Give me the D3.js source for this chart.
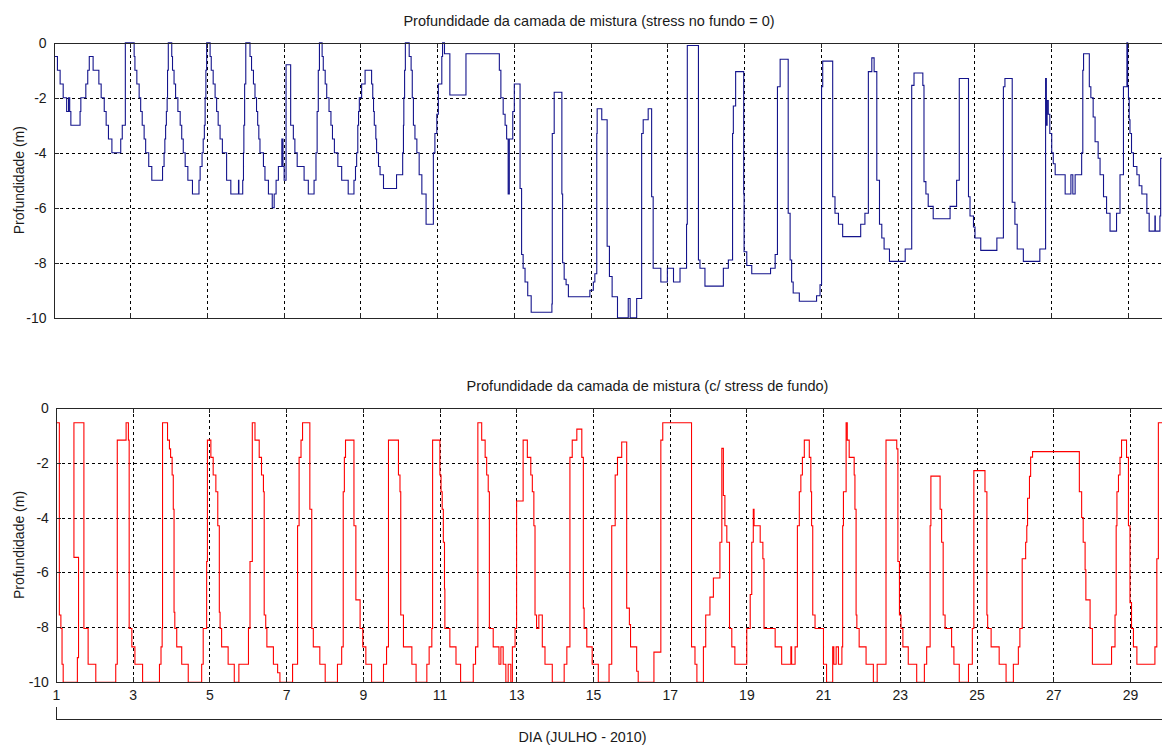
<!DOCTYPE html>
<html><head><meta charset="utf-8">
<script src="https://cdn.jsdelivr.net/npm/d3@7"></script>
<style>
body{margin:0;background:#fff;}
svg text{font-family:Arial,"Liberation Sans",Helvetica,sans-serif;fill:#1a1a1a;}
</style></head><body>
<svg id="chart" width="1162" height="745"></svg>
<script>
const xTickValues = [1,3,5,7,9,11,13,15,17,19,21,23,25,27,29];
const yTickValues = [0,-2,-4,-6,-8,-10];
const topTitle = "Profundidade da camada de mistura (stress no fundo = 0)";
const bottomTitle = "Profundidade da camada de mistura (c/ stress de fundo)";
const yLabel = "Profundidade (m)";
const xLabel = "DIA (JULHO - 2010)";

// top panel (stress no fundo = 0): step breakpoints
const topDay = [1.02,1.10,1.17,1.25,1.34,1.39,1.42,1.45,1.69,1.71,1.84,1.89,1.93,2.03,2.18,2.24,2.32,2.37,2.43,2.52,2.75,2.79,2.87,
3.10,3.12,3.17,3.23,3.27,3.31,3.36,3.40,3.48,3.56,3.84,3.88,3.90,3.92,3.94,3.96,3.97,3.99,
4.08,4.10,4.14,4.18,4.24,4.30,4.34,4.38,4.43,4.50,4.62,4.79,4.82,4.87,4.90,4.93,4.95,4.97,4.99,
5.08,5.11,5.16,5.21,5.25,5.29,5.34,5.40,5.51,5.62,5.82,5.83,5.93,5.95,5.96,5.98,6.01,
6.12,6.16,6.21,6.25,6.29,6.32,6.35,6.38,6.47,6.51,6.60,6.70,6.75,6.80,6.86,6.95,6.98,7.01,7.06,
7.18,7.25,7.29,7.35,7.53,7.64,7.79,7.84,7.87,7.90,7.93,
8.00,8.03,8.08,8.12,8.18,8.23,8.27,8.32,8.41,8.51,8.68,8.83,8.87,8.90,8.93,8.95,8.97,9.03,9.12,9.29,
9.32,9.34,9.36,9.40,9.42,9.47,9.51,9.60,9.94,10.10,10.12,10.13,10.15,10.17,
10.27,10.32,10.35,10.38,10.42,10.47,10.53,10.60,10.71,10.90,10.94,10.99,11.03,11.12,11.14,11.19,11.33,11.75,
12.62,12.66,12.72,12.77,12.81,12.85,12.88,12.97,13.01,13.16,13.20,13.24,13.29,13.36,13.45,13.99,
14.00,14.05,14.25,14.27,14.31,14.36,14.42,14.98,15.07,15.11,15.16,
15.17,15.29,15.43,15.49,15.56,15.70,15.98,16.03,16.20,16.33,
16.37,16.50,16.59,16.63,16.83,17.00,17.16,17.33,17.50,
17.52,17.81,17.85,17.98,18.46,18.59,18.70,
18.72,18.78,18.99,19.00,19.07,19.20,19.69,19.81,19.87,
19.94,20.15,20.20,20.24,20.28,20.44,20.89,20.98,21.02,
21.05,21.31,21.37,21.46,21.57,22.04,22.15,22.24,
22.33,22.39,22.46,22.53,22.59,22.65,22.79,23.20,23.37,
23.43,23.66,23.69,23.74,23.80,23.93,24.37,24.54,
24.61,24.85,24.89,24.98,25.02,25.17,25.59,25.76,
25.80,25.99,26.06,26.12,26.28,26.71,26.86,
26.88,26.90,26.93,26.97,27.02,27.06,27.11,27.37,27.52,27.57,27.63,27.80,27.83,27.85,
28.00,28.04,28.10,28.15,28.23,28.28,28.37,28.45,28.54,28.71,28.80,28.89,
28.98,29.00,29.02,29.04,29.06,29.10,29.15,29.24,29.30,29.37,29.50,29.56,29.71,29.72,29.84,29.86,29.95];
const topDepth = [-0.5,-1.0,-1.5,-2.0,-2.5,-2.0,-2.5,-3.0,-2.5,-2.0,-1.5,-1.0,-0.5,-1.0,-1.5,-2.0,-2.5,-3.0,-3.5,-4.0,-3.5,-3.0,0,
-0.5,-1.0,-1.5,-2.0,-2.5,-3.0,-3.5,-4.0,-4.5,-5.0,-4.5,-4.0,-3.5,-3.0,-2.5,-2.0,-1.0,0,
-0.5,-1.0,-1.5,-2.0,-2.5,-3.0,-3.5,-4.0,-4.5,-5.0,-5.5,-5.0,-4.5,-4.0,-3.5,-3.0,-2.0,-1.0,0,
-0.5,-1.0,-1.5,-2.0,-2.5,-3.0,-3.5,-4.0,-5.0,-5.5,-5.0,-5.5,-5.0,-4.0,-3.0,-1.5,0,
-0.5,-1.0,-1.5,-2.0,-2.5,-3.0,-3.5,-4.0,-4.5,-5.0,-5.5,-6.0,-5.5,-5.0,-4.5,-3.5,-4.5,-5.0,-0.8,
-3.0,-3.5,-4.0,-4.5,-5.0,-5.5,-5.0,-4.0,-2.5,-1.0,0,
-0.5,-1.0,-1.5,-2.0,-2.5,-3.0,-3.5,-4.0,-4.5,-5.0,-5.5,-5.0,-4.5,-4.0,-3.0,-2.5,-2.0,-1.5,-1.0,-1.5,
-2.0,-2.5,-3.0,-3.5,-4.0,-4.5,-4.8,-5.3,-4.8,-4.0,-3.0,-2.0,-1.0,0,
-0.5,-1.0,-2.0,-3.0,-3.5,-4.0,-4.8,-5.5,-6.6,-4.0,-3.3,-2.6,-1.5,-0.5,0,-0.4,-1.9,-0.4,
-1.0,-2.0,-2.6,-3.0,-3.5,-5.5,-3.5,-2.5,-1.5,-5.3,-7.7,-8.2,-8.7,-9.2,-9.8,-9.5,
-3.3,-1.8,-5.5,-8.0,-8.6,-8.8,-9.24,-9.0,-8.7,-8.4,-3.3,
-2.4,-2.8,-7.4,-8.5,-9.24,-10,-9.3,-10,-9.3,-3.3,
-2.8,-2.4,-5.6,-8.2,-8.7,-8.2,-8.7,-8.2,-6.6,
-0.1,-7.9,-8.2,-8.85,-8.2,-7.9,-3.3,
-2.3,-1.05,-5.5,-7.6,-8.1,-8.4,-8.2,-7.7,-1.6,
-0.6,-6.2,-7.9,-8.7,-9.1,-9.4,-9.2,-8.8,-1.6,
-0.67,-5.6,-6.2,-6.6,-7.05,-6.6,-6.2,-1.05,
-0.55,-1.05,-5.0,-6.6,-7.1,-7.5,-7.95,-7.5,-1.55,
-1.1,-1.55,-5.05,-5.5,-5.95,-6.4,-5.95,-5.0,
-1.3,-5.6,-6.3,-6.7,-7.1,-7.55,-7.1,-1.6,
-1.3,-5.8,-6.6,-7.5,-7.95,-7.5,-1.3,
-3.0,-2.1,-2.6,-3.3,-4.0,-4.4,-4.8,-5.5,-4.8,-5.5,-4.8,-4.0,-1.0,-0.4,
-1.6,-2.0,-2.7,-3.6,-4.2,-4.8,-5.6,-6.2,-6.85,-6.2,-4.8,-1.6,
0,-1.6,-2.0,-2.8,-3.3,-4.0,-4.5,-4.8,-5.2,-5.5,-6.2,-6.85,-6.3,-6.85,-6.3,-4.2,-4.2];

// bottom panel (c/ stress de fundo): step breakpoints
const bottomDay = [1.00,1.09,1.13,1.16,1.19,1.56,1.59,1.47,1.73,1.84,2.04,2.56,2.60,2.83,2.89,2.91,2.98,3.06,3.26,3.70,3.74,3.77,
3.78,3.91,3.96,3.99,4.03,4.06,4.08,4.10,4.15,4.28,4.45,4.80,4.84,4.93,
4.95,5.04,5.10,5.17,5.22,5.26,5.28,5.32,5.49,5.65,5.77,6.02,6.06,
6.12,6.19,6.30,6.36,6.41,6.43,6.47,6.50,6.67,6.78,6.84,7.17,
7.30,7.34,7.39,7.43,7.62,7.67,7.71,7.88,8.02,8.34,8.45,
8.49,8.52,8.55,8.77,8.82,8.93,9.00,9.08,9.23,9.54,9.62,
9.67,9.93,9.97,9.99,10.06,10.28,10.39,10.67,10.73,10.80,
10.82,11.01,11.04,11.07,11.10,11.13,11.14,11.27,11.43,11.55,11.88,11.94,
12.00,12.10,12.19,12.23,12.27,12.30,12.40,12.55,12.60,12.66,12.73,12.79,12.86,12.90,12.97,
13.01,13.18,13.29,13.38,13.42,13.46,13.49,13.53,13.59,13.68,13.75,13.94,14.25,14.32,
14.40,14.46,14.58,14.71,14.75,14.77,14.84,14.98,15.14,15.42,
15.49,15.58,15.64,15.75,15.88,15.95,15.98,16.14,16.18,16.59,
16.77,16.82,17.57,17.66,17.71,17.88,17.94,18.05,18.14,
18.31,18.36,18.40,18.44,18.49,18.56,18.62,18.70,19.01,19.10,
19.14,19.18,19.20,19.36,19.43,19.46,19.75,19.92,20.16,20.18,20.27,
20.33,20.38,20.42,20.46,20.51,20.64,20.68,20.70,20.73,20.79,21.01,21.09,21.25,21.28,21.34,21.40,21.49,
21.51,21.53,21.60,21.63,21.68,21.81,21.83,21.86,21.88,21.94,22.12,22.31,22.41,
22.64,22.92,22.95,22.99,23.03,23.08,23.22,23.44,23.64,23.70,
23.79,23.81,24.05,24.09,24.13,24.18,24.35,24.41,24.55,24.79,24.89,
24.93,25.22,25.27,25.29,25.38,25.59,25.77,25.96,26.09,26.13,
26.19,26.28,26.31,26.33,26.38,26.41,26.46,27.68,27.74,27.78,27.83,27.85,27.96,28.02,28.52,28.61,
28.64,28.66,28.70,28.74,28.78,28.91,28.96,29.00,29.04,29.09,29.18,29.65,29.70,
29.74,29.95];
const bottomDepth = [-0.55,-7.55,-8.04,-9.34,-10,-9.1,-5.45,-0.55,-8.04,-9.34,-10,-9.34,-1.18,-0.55,-1.18,-8.04,-8.71,-9.34,-10,-9.34,-8.71,-8.04,
-0.55,-1.18,-1.5,-1.81,-2.45,-3.7,-7.45,-8.04,-8.71,-9.34,-10,-9.34,-8.04,-5.6,
-1.18,-1.81,-2.45,-3.06,-4.3,-7.45,-8.04,-8.71,-9.34,-10,-9.34,-8.04,-5.6,
-0.55,-1.18,-1.81,-2.45,-3.06,-7.55,-8.04,-8.71,-9.34,-9.65,-10,-9.34,
-4.3,-1.81,-1.18,-0.55,-3.7,-8.04,-8.71,-9.34,-10,-9.34,-8.71,
-3.06,-1.81,-1.18,-4.3,-7.0,-8.04,-8.71,-9.34,-10,-9.34,-8.71,
-1.18,-2.45,-3.06,-7.55,-8.71,-9.34,-10,-9.34,-8.71,-8.04,
-1.18,-2.45,-3.06,-3.7,-4.9,-6.6,-8.04,-8.71,-9.34,-10,-9.34,-8.71,
-0.55,-1.18,-1.81,-2.45,-3.06,-8.04,-8.71,-9.34,-8.71,-9.34,-10,-9.34,-10,-8.71,-8.04,
-3.4,-1.18,-1.81,-2.45,-3.06,-4.3,-7.55,-8.04,-7.55,-8.71,-9.34,-10,-9.34,-8.71,
-1.81,-1.18,-0.78,-1.81,-7.3,-8.04,-8.71,-9.34,-10,-9.34,
-4.3,-2.45,-1.81,-1.25,-7.3,-7.9,-8.71,-9.6,-10,-8.9,
-1.18,-0.55,-8.71,-9.34,-10,-8.71,-7.55,-6.9,-6.2,
-4.9,-1.48,-3.2,-4.3,-4.9,-8.04,-8.71,-9.34,-8.04,-6.8,
-4.9,-3.7,-4.3,-4.9,-5.5,-8.04,-8.71,-9.34,-8.71,-9.34,-8.71,
-4.3,-3.06,-2.45,-1.81,-1.18,-1.81,-3.06,-4.3,-7.55,-8.04,-9.34,-10,-8.71,-9.34,-8.71,-9.34,-8.71,
-4.3,-3.06,-0.55,-1.18,-1.81,-2.45,-3.7,-7.55,-8.04,-8.71,-9.34,-10,-9.34,
-1.18,-1.5,-5.6,-7.55,-8.04,-8.71,-9.34,-10,-9.34,-8.71,
-4.3,-2.49,-3.7,-4.9,-7.55,-8.04,-8.71,-9.34,-10,-9.34,-8.04,
-2.29,-3.06,-7.55,-8.04,-8.71,-9.34,-10,-9.34,-8.71,-8.04,
-5.5,-4.9,-4.3,-3.3,-2.5,-1.8,-1.6,-3.06,-4.0,-4.9,-5.9,-7.0,-8.04,-9.34,-8.71,-7.55,
-4.3,-3.06,-2.45,-1.81,-1.18,-1.81,-4.3,-7.1,-8.04,-8.71,-9.34,-8.71,-5.5,
-0.55,-0.55];

const W = 1162, H = 745;
const pxPerDay = 38.36;
const svg = d3.select("#chart");
const axisColor = "#262626";

function drawPanel(cfg) {
  const x = d3.scaleLinear().domain([1, 31]).range([cfg.left, cfg.left + 30 * pxPerDay]);
  const y = d3.scaleLinear().domain([-10, 0]).range([cfg.bottom, cfg.top]);
  const g = svg.append("g");
  const right = W + 2;

  // grid
  const grid = g.append("g").attr("stroke", "#000").attr("stroke-width", 1)
    .attr("stroke-dasharray", "3,3").attr("shape-rendering", "crispEdges");
  grid.selectAll("line.gx").data(xTickValues.filter(d => d > 1)).join("line")
    .attr("x1", d => Math.round(x(d)) + 0.5).attr("x2", d => Math.round(x(d)) + 0.5)
    .attr("y1", y(0)).attr("y2", y(-10));
  grid.selectAll("line.gy").data(yTickValues.filter(d => d > -10 && d < 0)).join("line")
    .attr("x1", cfg.left).attr("x2", right)
    .attr("y1", d => Math.round(y(d)) + 0.5).attr("y2", d => Math.round(y(d)) + 0.5);

  // data
  const clipId = "clip" + cfg.id;
  svg.append("clipPath").attr("id", clipId).append("rect")
    .attr("x", cfg.left).attr("y", cfg.top - 1.5).attr("width", W).attr("height", cfg.bottom - cfg.top + 3);
  const pts = cfg.days.map((d, i) => [d, cfg.depths[i]]);
  g.append("path").datum(pts)
    .attr("clip-path", `url(#${clipId})`)
    .attr("fill", "none").attr("stroke", cfg.color).attr("stroke-width", 1.1)
    .attr("d", d3.line().x(d => x(d[0])).y(d => y(d[1])).curve(d3.curveStepAfter));

  // axes
  const ax = g.append("g").attr("shape-rendering", "crispEdges");
  const bottomAxis = d3.axisBottom(x).tickValues(xTickValues).tickSizeInner(-5).tickSizeOuter(0).tickPadding(8)
    .tickFormat(cfg.xLabels ? (d => String(d)) : () => "");
  const topAxis = d3.axisTop(x).tickValues(xTickValues).tickSizeInner(-5).tickSizeOuter(0).tickFormat(() => "");
  const leftAxis = d3.axisLeft(y).tickValues(yTickValues).tickSizeInner(-5).tickSizeOuter(0).tickPadding(7)
    .tickFormat(d => String(d));
  ax.append("g").attr("transform", `translate(0,${cfg.bottom})`).call(bottomAxis);
  ax.append("g").attr("transform", `translate(0,${cfg.top})`).call(topAxis);
  ax.append("g").attr("transform", `translate(${cfg.left},0)`).call(leftAxis);
  ax.selectAll("path.domain, .tick line").attr("stroke", axisColor);
  ax.selectAll(".tick text").attr("font-size", 14).attr("fill", "#1a1a1a")
    .attr("font-family", 'Arial,"Liberation Sans",sans-serif');

  // title
  svg.append("text").attr("x", cfg.titleX).attr("y", cfg.titleY).attr("text-anchor", "middle")
    .attr("font-size", 14.5).text(cfg.title);
  // y label
  svg.append("text").attr("transform", `translate(24,${(cfg.top + cfg.bottom) / 2}) rotate(-90)`)
    .attr("text-anchor", "middle").attr("font-size", 14).text(yLabel);
  return x;
}

drawPanel({id: "t", left: 53.6, top: 42.7, bottom: 317.7, days: topDay, depths: topDepth,
  color: "#14148c", title: topTitle, titleX: 589, titleY: 26, xLabels: false});
const xb = drawPanel({id: "b", left: 55.9, top: 407.7, bottom: 682.3, days: bottomDay, depths: bottomDepth,
  color: "#ff0000", title: bottomTitle, titleX: 647.5, titleY: 391, xLabels: true});

// extra label axis below
const yExtra = d3.scaleLinear().domain([0, 1]).range([719, 706.7]);
const ex = svg.append("g").attr("shape-rendering", "crispEdges");
ex.append("g").attr("transform", "translate(0,719)")
  .call(d3.axisBottom(xb).tickValues([]).tickSizeOuter(0));
ex.append("g").attr("transform", `translate(${xb(1)},0)`)
  .call(d3.axisLeft(yExtra).tickValues([]).tickSizeOuter(0));
ex.selectAll("path.domain").attr("stroke", axisColor);
svg.append("text").attr("x", 582.5).attr("y", 741.5).attr("text-anchor", "middle")
  .attr("font-size", 14.3).text(xLabel);
</script>
</body></html>
